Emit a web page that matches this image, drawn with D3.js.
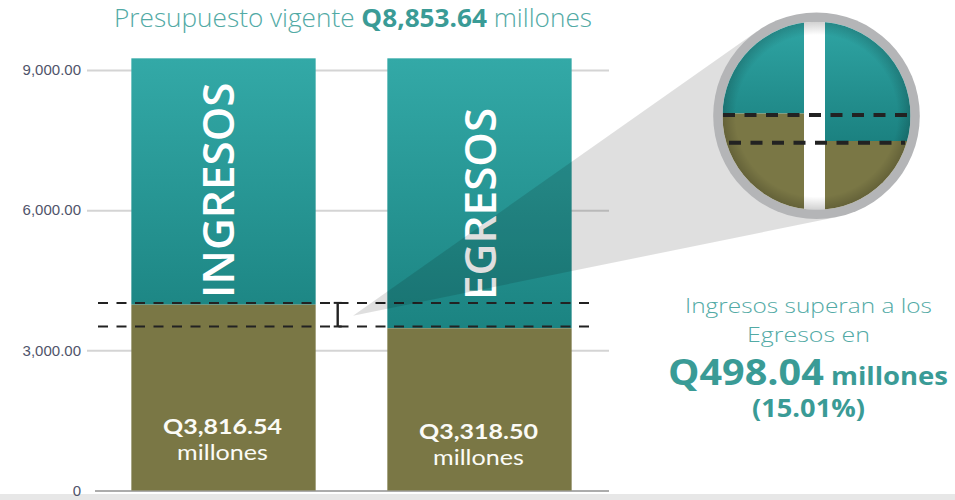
<!DOCTYPE html>
<html><head><meta charset="utf-8">
<script src="https://cdn.jsdelivr.net/npm/d3@7"></script>
<style>
body{margin:0;background:#fff;}
svg{display:block;}
</style>
</head><body>
<svg id="chart" width="955" height="500"></svg>
<script>
// ---------------- DATA ----------------
const categories   = ["INGRESOS", "EGRESOS"];
const baseValues   = [3977, 3472];          // olive part, read on the axis
const totalValues  = [9250, 9250];          // top of the bars, read on the axis
const amountLabels = ["Q3,816.54", "Q3,318.50"];
const unitLabel    = "millones";
const tickValues   = [0, 3000, 6000, 9000];
const tickLabels   = ["0", "3,000.00", "6,000.00", "9,000.00"];
const titleParts   = ["Presupuesto vigente ", "Q8,853.64", " millones"];
const noteLines    = ["Ingresos superan a los", "Egresos en"];
const diffAmount   = "Q498.04";
const diffUnit     = " millones";
const diffPercent  = "(15.01%)";

// ---------------- LAYOUT ----------------
const W = 955, H = 500;
const TEAL_TOP = "#33a9a7", TEAL_BOT = "#1b8381", OLIVE = "#7a7745";
const TXT_LIGHT = "#52aaa5", TXT_BOLD = "#3a9b96";
const FONT = "'Open Sans', 'Noto Sans', sans-serif";
const FONT2 = "Lato, 'Open Sans', sans-serif";
const labelShift = [-5.5, 1.5];     // horizontal shift of vertical names
const labelBase  = [298, 300];      // start (bottom) of vertical names
const amountY    = [434, 439];

const svg = d3.select("#chart");
const defs = svg.append("defs");

const y = d3.scaleLinear().domain([0, 9000]).range([490.5, 70]);
const x = d3.scaleBand().domain(categories).range([95, 608])
  .paddingInner(0.28).paddingOuter(0.142);

// bottom band
svg.append("rect").attr("x", 0).attr("y", 494).attr("width", W).attr("height", 6).attr("fill", "#e7e7e7");

// axis + gridlines
const gridLeft = 87, gridRight = 609;
const axis = d3.axisLeft(y).tickValues(tickValues)
  .tickFormat((d, i) => tickLabels[i])
  .tickSize(-(gridRight - gridLeft)).tickPadding(6);
const gAxis = svg.append("g").attr("transform", `translate(${gridLeft},0)`).call(axis);
gAxis.select(".domain").remove();
gAxis.selectAll(".tick line").attr("stroke", "#d4d4d4").attr("stroke-width", 2);
gAxis.selectAll(".tick text").attr("fill", "#50546a")
  .style("font-family", "'Liberation Sans', Arial, sans-serif").style("font-size", "15px");
gAxis.selectAll(".tick").filter(d => d === 0).select("line")
  .attr("x1", 8).attr("stroke", "#909090").attr("stroke-width", 1.6);

// gradient for teal part
const grad = defs.append("linearGradient").attr("id", "tealGrad")
  .attr("gradientUnits", "userSpaceOnUse")
  .attr("x1", 0).attr("x2", 0).attr("y1", y(9250)).attr("y2", y(3400));
grad.append("stop").attr("offset", 0).attr("stop-color", TEAL_TOP);
grad.append("stop").attr("offset", 1).attr("stop-color", TEAL_BOT);

const bars = svg.append("g").selectAll("g").data(categories).join("g");
bars.append("rect")
  .attr("x", d => x(d)).attr("width", x.bandwidth())
  .attr("y", (d, i) => y(totalValues[i]))
  .attr("height", (d, i) => y(baseValues[i]) - y(totalValues[i]))
  .attr("fill", "url(#tealGrad)");
bars.append("rect")
  .attr("x", d => x(d)).attr("width", x.bandwidth())
  .attr("y", (d, i) => y(baseValues[i]))
  .attr("height", (d, i) => y(0) - y(baseValues[i]))
  .attr("fill", OLIVE);

// vertical names
bars.append("text")
  .attr("transform", (d, i) => `translate(${x(d) + x.bandwidth() / 2 + labelShift[i] + 15.5},${labelBase[i]}) rotate(-90)`)
  .attr("text-anchor", "start")
  .attr("fill", "#fff")
  .style("font-family", FONT).style("font-weight", 600).style("font-size", "44px")
  .text(d => d);

// amounts
bars.append("text")
  .attr("x", d => x(d) + x.bandwidth() / 2 - 1)
  .attr("y", (d, i) => amountY[i])
  .attr("text-anchor", "middle").attr("fill", "#fbfbf6")
  .attr("textLength", 119).attr("lengthAdjust", "spacingAndGlyphs")
  .style("font-family", FONT2).style("font-weight", 700).style("font-size", "21.5px")
  .text((d, i) => amountLabels[i]);
bars.append("text")
  .attr("x", d => x(d) + x.bandwidth() / 2 - 1)
  .attr("y", (d, i) => amountY[i] + 25.5)
  .attr("text-anchor", "middle").attr("fill", "#fbfbf6")
  .attr("textLength", 91).attr("lengthAdjust", "spacingAndGlyphs")
  .style("font-family", FONT2).style("font-weight", 400).style("font-size", "20.5px")
  .text(unitLabel);

// dashed reference lines at the two base values
const dashY = baseValues.map(v => y(v) - 1.8);
svg.append("g").selectAll("line").data(dashY).join("line")
  .attr("x1", 98).attr("x2", 594).attr("y1", d => d).attr("y2", d => d)
  .attr("stroke", "#222").attr("stroke-width", 2).attr("stroke-dasharray", "10,8.5");

// I marker between the two lines
const ix = 337.7;
const mk = svg.append("g").attr("stroke", "#222");
mk.append("line").attr("x1", ix).attr("x2", ix).attr("y1", dashY[0]).attr("y2", dashY[1]).attr("stroke-width", 2.4);
mk.append("line").attr("x1", ix - 4).attr("x2", ix + 4).attr("y1", dashY[0]).attr("y2", dashY[0]).attr("stroke-width", 2);
mk.append("line").attr("x1", ix - 4).attr("x2", ix + 4).attr("y1", dashY[1]).attr("y2", dashY[1]).attr("stroke-width", 2);

// magnifier cone
const cx = 816.5, cy = 115.8, R = 103.3, r = 94;
const ax = 353, ay = (dashY[0] + dashY[1]) / 2 + 1;
const dx = cx - ax, dy = cy - ay, dist = Math.hypot(dx, dy);
const base = Math.atan2(dy, dx), half = Math.asin(R / dist), tl = Math.sqrt(dist * dist - R * R);
const t1 = [ax + tl * Math.cos(base - half), ay + tl * Math.sin(base - half)];
const t2 = [ax + tl * Math.cos(base + half), ay + tl * Math.sin(base + half)];
svg.append("path")
  .attr("d", `M${ax},${ay}L${t1[0]},${t1[1]}L${cx},${cy}L${t2[0]},${t2[1]}Z`)
  .attr("fill", "#000").attr("fill-opacity", 0.125);

// magnifier
svg.append("circle").attr("cx", cx).attr("cy", cy).attr("r", R).attr("fill", "#b4b5b7");
defs.append("clipPath").attr("id", "lens").append("circle").attr("cx", cx).attr("cy", cy).attr("r", r);
const lensGrad = defs.append("linearGradient").attr("id", "lensGrad")
  .attr("gradientUnits", "userSpaceOnUse").attr("x1", 0).attr("x2", 0).attr("y1", cy - r).attr("y2", 142);
lensGrad.append("stop").attr("offset", 0).attr("stop-color", "#2fa5a4");
lensGrad.append("stop").attr("offset", 1).attr("stop-color", "#1b8180");
const shade = defs.append("radialGradient").attr("id", "lensShade")
  .attr("gradientUnits", "userSpaceOnUse").attr("cx", cx).attr("cy", cy).attr("r", r);
shade.append("stop").attr("offset", 0.86).attr("stop-color", "#000").attr("stop-opacity", 0);
shade.append("stop").attr("offset", 1).attr("stop-color", "#000").attr("stop-opacity", 0.18);

const lens = svg.append("g").attr("clip-path", "url(#lens)");
lens.append("rect").attr("x", cx - r).attr("y", cy - r).attr("width", 2 * r).attr("height", 2 * r).attr("fill", "#fff");
const gapL = 804, gapR = 825, lB = 113.5, rB = 141;
lens.append("rect").attr("x", cx - r).attr("y", cy - r).attr("width", gapL - (cx - r)).attr("height", lB - (cy - r)).attr("fill", "url(#lensGrad)");
lens.append("rect").attr("x", cx - r).attr("y", lB).attr("width", gapL - (cx - r)).attr("height", cy + r - lB).attr("fill", OLIVE);
lens.append("rect").attr("x", gapR).attr("y", cy - r).attr("width", cx + r - gapR).attr("height", rB - (cy - r)).attr("fill", "url(#lensGrad)");
lens.append("rect").attr("x", gapR).attr("y", rB).attr("width", cx + r - gapR).attr("height", cy + r - rB).attr("fill", OLIVE);
lens.append("circle").attr("cx", cx).attr("cy", cy).attr("r", r).attr("fill", "url(#lensShade)");
lens.append("line").attr("x1", 723).attr("x2", 908).attr("y1", 115).attr("y2", 115)
  .attr("stroke", "#222").attr("stroke-width", 4).attr("stroke-dasharray", "12,9.5");
lens.append("line").attr("x1", 729).attr("x2", 905).attr("y1", 142.7).attr("y2", 142.7)
  .attr("stroke", "#222").attr("stroke-width", 4).attr("stroke-dasharray", "12,9.5");

// title
const title = svg.append("text").attr("x", 353).attr("y", 27).attr("text-anchor", "middle")
  .attr("textLength", 478).attr("lengthAdjust", "spacingAndGlyphs")
  .style("font-family", FONT).style("font-size", "25px");
title.append("tspan").attr("fill", TXT_LIGHT).style("font-weight", 300).text(titleParts[0]);
title.append("tspan").attr("fill", TXT_BOLD).style("font-weight", 700).text(titleParts[1]);
title.append("tspan").attr("fill", TXT_LIGHT).style("font-weight", 300).text(titleParts[2]);

// note on the right
const noteX = 808.5;
svg.append("text").attr("x", noteX).attr("y", 313).attr("text-anchor", "middle")
  .attr("textLength", 247).attr("lengthAdjust", "spacingAndGlyphs")
  .attr("fill", TXT_LIGHT).style("font-family", FONT).style("font-weight", 300).style("font-size", "21px")
  .text(noteLines[0]);
svg.append("text").attr("x", noteX).attr("y", 341.7).attr("text-anchor", "middle")
  .attr("textLength", 123).attr("lengthAdjust", "spacingAndGlyphs")
  .attr("fill", TXT_LIGHT).style("font-family", FONT).style("font-weight", 300).style("font-size", "21px")
  .text(noteLines[1]);
const big = svg.append("text").attr("x", 808).attr("y", 385).attr("text-anchor", "middle")
  .attr("textLength", 280).attr("lengthAdjust", "spacingAndGlyphs")
  .attr("fill", TXT_BOLD).style("font-family", FONT).style("font-weight", 700);
big.append("tspan").style("font-size", "36px").text(diffAmount);
big.append("tspan").style("font-size", "25px").text(diffUnit);
svg.append("text").attr("x", noteX).attr("y", 417).attr("text-anchor", "middle")
  .attr("textLength", 113).attr("lengthAdjust", "spacingAndGlyphs")
  .attr("fill", TXT_BOLD).style("font-family", FONT).style("font-weight", 700).style("font-size", "25px")
  .text(diffPercent);
</script>
</body></html>
